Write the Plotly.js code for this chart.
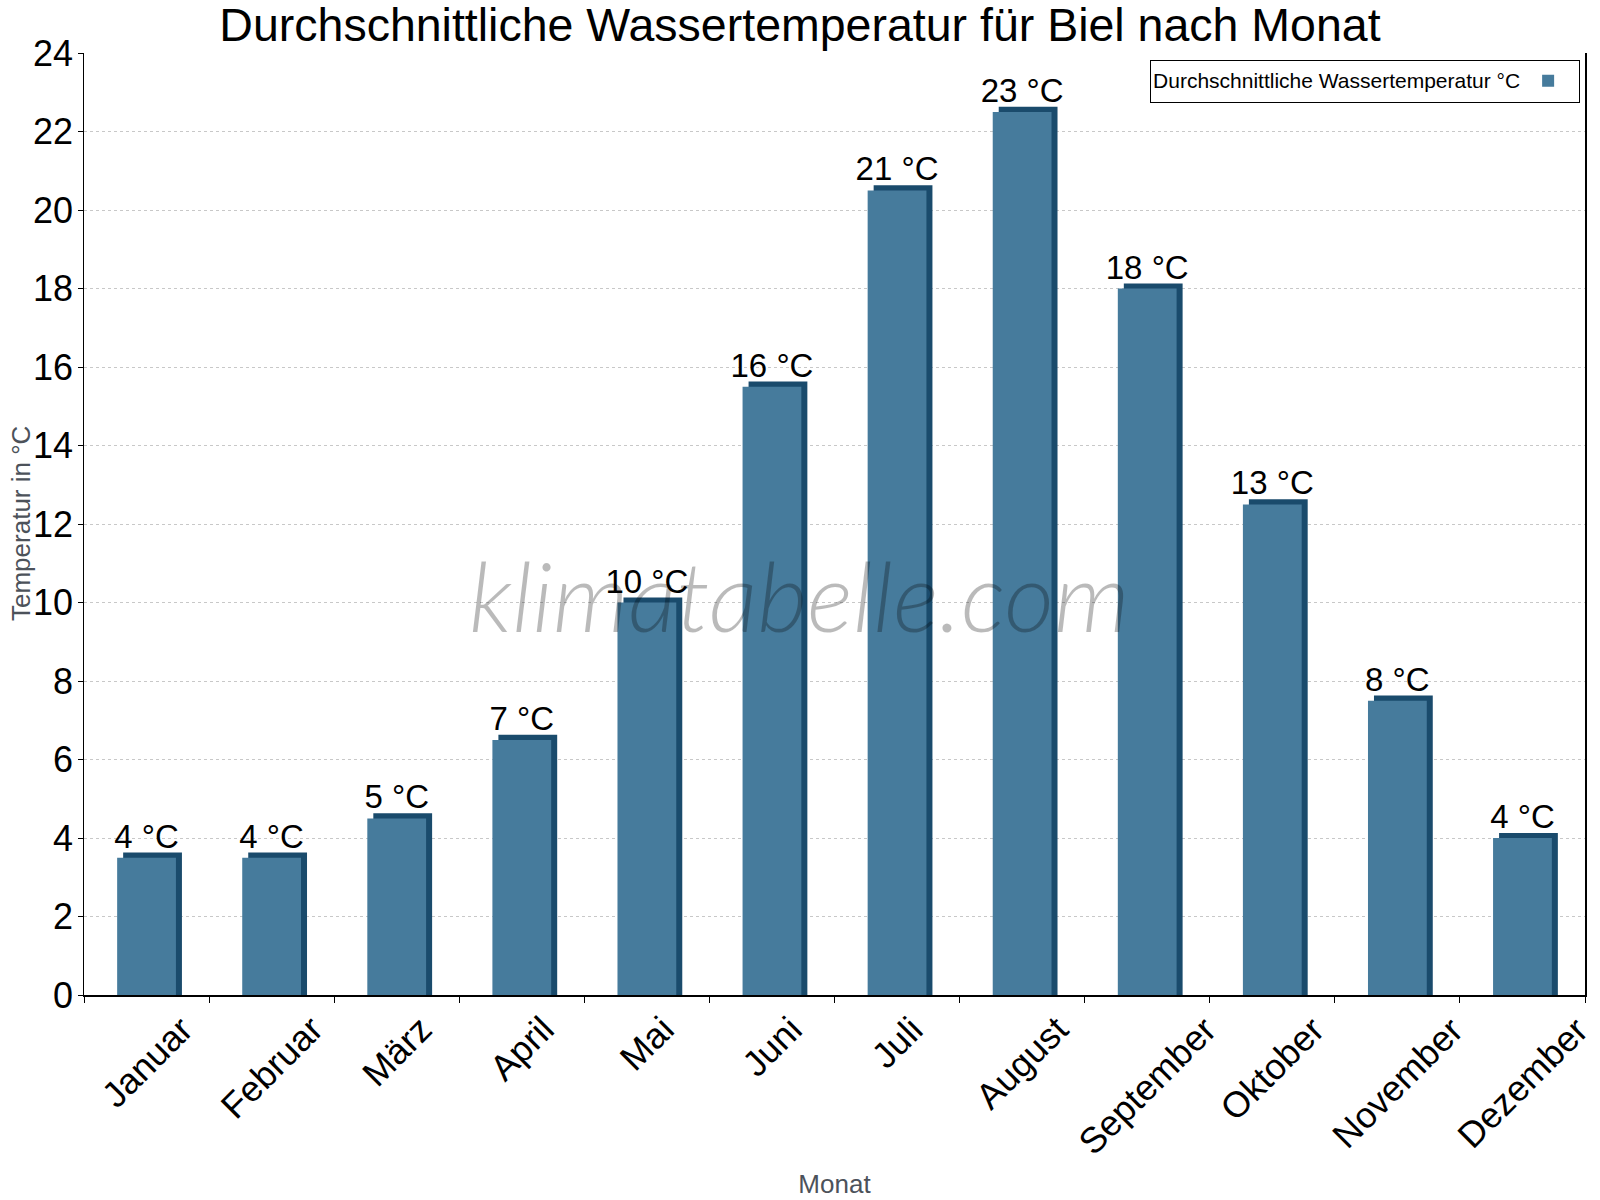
<!DOCTYPE html>
<html>
<head>
<meta charset="utf-8">
<script src="https://cdn.plot.ly/plotly-3.0.1.min.js"></script>
<style>html,body{margin:0;padding:0;background:#fff;}#chart{width:1600px;height:1200px;}</style>
</head>
<body>
<div id="chart"></div>
<script>
const months = ["Januar","Februar","März","April","Mai","Juni","Juli","August","September","Oktober","November","Dezember"];
const waterTemp = [3.5, 3.5, 4.5, 6.5, 10, 15.5, 20.5, 22.5, 18, 12.5, 7.5, 4];
const valueLabels = ["4 °C","4 °C","5 °C","7 °C","10 °C","16 °C","21 °C","23 °C","18 °C","13 °C","8 °C","4 °C"];
const yTicks = [0,2,4,6,8,10,12,14,16,18,20,22,24];
const seriesName = "Durchschnittliche Wassertemperatur °C";
const yTitle = "Temperatur in °C";

const frontColor = "#467b9c";
const sideColor = "#1a4b6c";
const depth = 0.13; // top face depth in data units

const back = {
  type: "bar",
  x: months,
  y: waterTemp.map(v => v + depth),
  width: 0.47,
  offset: -0.187,
  marker: {color: sideColor, line: {width: 0}},
  showlegend: false,
  hoverinfo: "skip"
};
const front = {
  type: "bar",
  x: months,
  y: waterTemp,
  width: 0.47,
  offset: -0.235,
  name: " ",
  marker: {color: frontColor, line: {color: sideColor, width: 0}},
  text: valueLabels,
  textposition: "outside",
  constraintext: "none",
  cliponaxis: false,
  textfont: {family: "Liberation Sans, Arial, sans-serif", size: 33, color: "#000"},
  showlegend: true
};

const tickFont = {family: "Liberation Sans, Arial, sans-serif", size: 36, color: "#000"};

// month tick labels, rotated and centred under each category
const monthLabels = months.map(m => ({
  text: m, x: m, y: 0, xref: "x", yref: "y",
  xanchor: "center", yanchor: "top", yshift: -11,
  textangle: -45, showarrow: false, font: tickFont
}));
// value-axis tick labels
const yLabels = yTicks.map(v => ({
  text: String(v), x: 0, y: v, xref: "paper", yref: "y",
  xanchor: "right", yanchor: "middle", xshift: -9,
  showarrow: false, font: tickFont
}));

const layout = {
  width: 1600, height: 1200,
  margin: {l: 84, r: 15, t: 53, b: 205},
  paper_bgcolor: "#fff", plot_bgcolor: "#fff",
  barmode: "overlay",
  font: {family: "Liberation Sans, Arial, sans-serif", color: "#000"},
  title: {text: "Durchschnittliche Wassertemperatur für Biel nach Monat", font: {size: 46.5, color: "#000"}, x: 0.5, xanchor: "center", y: 0.979, yanchor: "middle"},
  xaxis: {
    type: "category",
    range: [-0.5, 11.5],
    autorange: false,
    showticklabels: false,
    ticks: "outside", ticklen: 6, tickcolor: "#000", tickson: "boundaries",
    showline: true, linecolor: "#000", linewidth: 1.5,
    showgrid: false,
    title: {text: "Monat", font: {size: 26, color: "#4c525a"}, standoff: 179},
    automargin: false
  },
  yaxis: {
    range: [0, 24],
    autorange: false,
    tickvals: yTicks,
    showticklabels: false,
    ticks: "outside", ticklen: 5, tickcolor: "#000",
    showline: true, linecolor: "#000", linewidth: 1.5, mirror: true,
    showgrid: true, gridcolor: "#c8c8c8", griddash: "dot", gridwidth: 1,
    zeroline: false,
    automargin: false
  },
  legend: {
    x: 0.9967, xanchor: "right", y: 0.993, yanchor: "top",
    bordercolor: "#000", borderwidth: 1, bgcolor: "#fff",
    font: {size: 21, color: "#000"},
    title: {text: seriesName, side: "left", font: {size: 21, color: "#000"}},
    itemwidth: 30
  },
  annotations: monthLabels.concat(yLabels, [{
    text: yTitle, xref: "paper", yref: "paper", x: 0, y: 0.5,
    xanchor: "center", yanchor: "middle", xshift: -63, textangle: -90,
    showarrow: false, font: {family: "Liberation Sans, Arial, sans-serif", size: 26, color: "#4c525a"}
  }, {
    text: "klimatabelle.com", xref: "paper", yref: "paper", x: 0.477, y: 0.425,
    xanchor: "center", yanchor: "middle", showarrow: false,
    font: {family: "Lato, Liberation Sans, sans-serif", size: 97, weight: 300, color: "rgba(0,0,0,0.27)", style: "italic"}
  }])
};

Plotly.newPlot("chart", [back, front], layout, {displayModeBar: false, staticPlot: true});
</script>
</body>
</html>
